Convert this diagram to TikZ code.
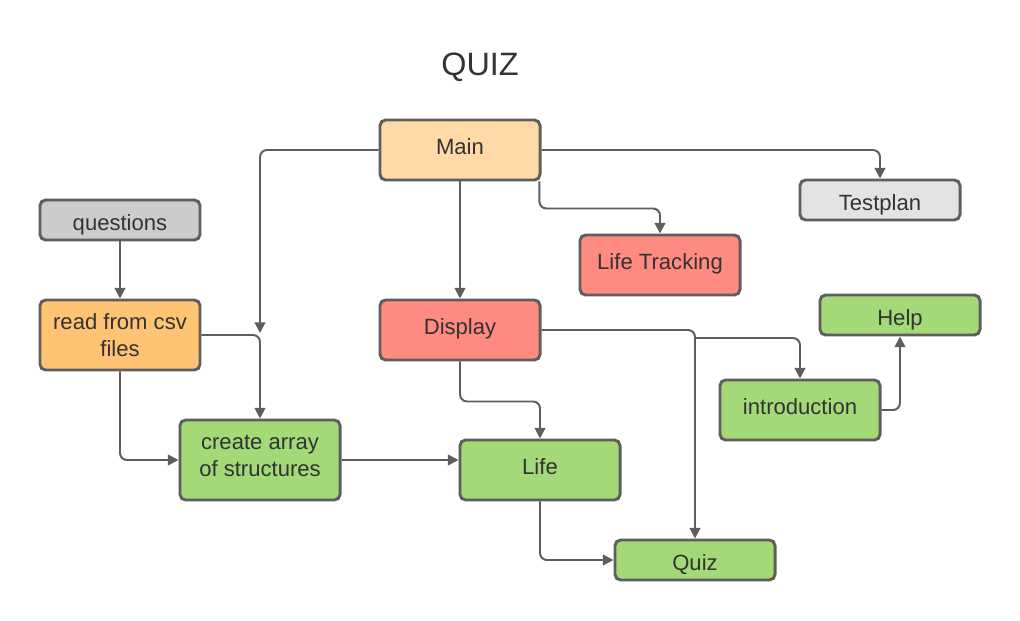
\documentclass[tikz,border=0pt]{standalone}
\usepackage{fontspec}
\setmainfont{Liberation Sans}
\usepackage{xcolor}
\usetikzlibrary{positioning,arrows.meta}
\definecolor{edgegray}{RGB}{94,94,94}
\definecolor{textgray}{RGB}{51,51,51}
\definecolor{mainorange}{RGB}{255,218,168}
\definecolor{csvorange}{RGB}{255,195,116}
\definecolor{boxred}{RGB}{255,138,128}
\definecolor{boxgreen}{RGB}{163,217,119}
\definecolor{darkgray}{RGB}{204,204,204}
\definecolor{lightgray}{RGB}{227,227,227}

\tikzset{
  box/.style={draw=edgegray, line width=2.1pt, rounded corners=4pt,
    minimum width=4cm, inner sep=4pt, align=center, text=textgray,
    font=\fontsize{15.7}{19.5}\selectfont},
  tallbox/.style={box, minimum height=1.5cm, text height=11.5pt, text depth=5pt},
  flatbox/.style={box, minimum height=1cm, text height=16pt, text depth=0.4pt},
  conn/.style={draw=edgegray, line width=1.4pt, rounded corners=5pt,
    -{Triangle[length=7.5pt,width=7.5pt]}}
}

\begin{document}
\begin{tikzpicture}[x=0.025cm, y=-0.025cm]
  \useasboundingbox (0,0) rectangle (1020,620);

  % Title
  \node[font=\fontsize{23}{28}\selectfont, text=textgray] (title) at (480,67) {QUIZ};

  % Boxes
  \node[tallbox, fill=mainorange] (main) at (460,150) {Main};
  \node[flatbox, fill=lightgray] (testplan) at (880,200) {Testplan};
  \node[flatbox, fill=darkgray] (questions) at (120,220) {questions};
  \node[tallbox, fill=boxred] (tracking) at (660,265) {Life Tracking};
  \node[box, fill=csvorange, minimum height=1.75cm] (csv) at (120,335) {read from csv\\files};
  \node[tallbox, fill=boxred] (display) at (460,330) {Display};
  \node[flatbox, fill=boxgreen] (help) at (900,315) {Help};
  \node[tallbox, fill=boxgreen] (intro) at (800,410) {introduction};
  \node[box, fill=boxgreen, minimum height=2cm, text depth=5.7pt] (array) at (260,460) {create array\\of structures};
  \node[tallbox, fill=boxgreen] (life) at (540,470) {Life};
  \node[flatbox, fill=boxgreen] (quiz) at (695,560) {Quiz};

  % Free ends
  \coordinate (mainend) at (260,333);
  \coordinate (split) at (695,338);

  % Connectors
  \draw[conn] (main.west) -| (mainend);
  \draw[conn] (main.east) -| (testplan.north);
  \draw[conn] ([xshift=-1.5pt]main.south east) -- ++(0,27) -| (tracking.north);
  \draw[conn] (main) -- (display);
  \draw[conn] (questions) -- (csv);
  \draw[conn] (csv.east) -| (array.north);
  \draw[conn] (csv.south) |- (array.west);
  \draw[conn] (array.east) -- (array.east -| life.west);
  \draw[conn] (display.south) -- ++(0,40) -| (life.north);
  \draw[conn] (display.east) -| (quiz.north);
  \draw[conn] (split) -| (intro.north);
  \draw[conn] (intro.east) -| (help.south);
  \draw[conn] (life.south) |- (quiz.west);
\end{tikzpicture}
\end{document}
